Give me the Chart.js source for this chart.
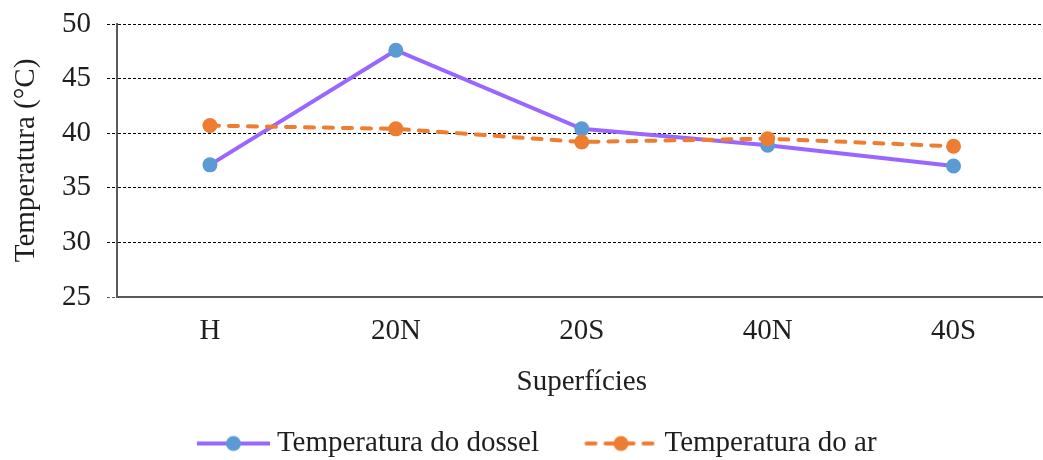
<!DOCTYPE html>
<html>
<head>
<meta charset="utf-8">
<script src="https://cdn.jsdelivr.net/npm/chart.js@4.4.1/dist/chart.umd.min.js"></script>
<style>
  html, body { margin:0; padding:0; background:#fff; overflow:hidden; }
  #wrap { width:1054px; height:460px; }
</style>
</head>
<body>
<div id="wrap"><canvas id="grafico"></canvas></div>
<script>
/* ===== dados ===== */
const superficies = ["H", "20N", "20S", "40N", "40S"];
const tempDossel  = [37.1, 47.6, 40.4, 38.9, 37.0];
const tempAr      = [40.7, 40.4, 39.2, 39.5, 38.8];
const nomesSeries = ["Temperatura do dossel", "Temperatura do ar"];
const yMin = 25, yMax = 50, yPasso = 5;

/* ===== estilo ===== */
const corTexto = "#1e1e1e";
const corEixo  = "#595959";
const roxo = "#9966ff", azul = "#5b9bd5", laranja = "#ed7d31";
const tracoAr = [9, 10];

Chart.defaults.font.family = "'Liberation Serif', 'Times New Roman', serif";
Chart.defaults.font.size = 29;
Chart.defaults.color = corTexto;

// marcador da legenda: linha + ponto (com margem transparente a esquerda)
function marcador(corLinha, corPonto, traco){
  const c = document.createElement("canvas");
  c.width = 116; c.height = 18;
  const g = c.getContext("2d");
  const x0 = 43, len = 73, y = 9;
  g.strokeStyle = corLinha;
  g.lineWidth = 4;
  g.lineCap = traco ? "round" : "butt";
  g.setLineDash(traco || []);
  g.beginPath();
  g.moveTo(x0 + (traco ? 2 : 0), y);
  g.lineTo(x0 + len - (traco ? 2 : 0), y);
  g.stroke();
  g.setLineDash([]);
  g.fillStyle = corPonto;
  g.beginPath();
  g.arc(x0 + len / 2, y, 7.5, 0, Math.PI * 2);
  g.fill();
  return c;
}
const marcadores = [marcador(roxo, azul, null), marcador(laranja, laranja, tracoAr)];

const ehBase = c => c.tick && c.tick.value === yMin;

new Chart(document.getElementById("grafico"), {
  type: "line",
  data: {
    labels: superficies,
    datasets: [
      {
        label: nomesSeries[0],
        data: tempDossel,
        borderColor: roxo,
        borderWidth: 4,
        pointRadius: 7.5,
        pointBorderWidth: 0,
        pointBackgroundColor: azul,
        tension: 0,
        order: 1
      },
      {
        label: nomesSeries[1],
        data: tempAr,
        borderColor: laranja,
        borderWidth: 4,
        borderDash: tracoAr,
        borderCapStyle: "round",
        pointRadius: 7.5,
        pointBorderWidth: 0,
        pointBackgroundColor: laranja,
        tension: 0,
        order: 0
      }
    ]
  },
  options: {
    responsive: true,
    maintainAspectRatio: false,
    animation: false,
    devicePixelRatio: 1,
    layout: { padding: { left: -16, right: 0, top: 24, bottom: -8 } },
    plugins: {
      tooltip: { enabled: false },
      legend: {
        position: "bottom",
        labels: {
          usePointStyle: true,
          pointStyleWidth: 101,
          padding: 10,
          color: corTexto,
          font: { size: 29 },
          generateLabels: chart => {
            const itens = Chart.defaults.plugins.legend.labels.generateLabels(chart);
            itens.sort((a, b) => a.datasetIndex - b.datasetIndex);
            itens.forEach(it => { it.pointStyle = marcadores[it.datasetIndex]; });
            return itens;
          }
        }
      }
    },
    scales: {
      x: {
        offset: true,
        grid: { display: false, drawTicks: false },
        border: { display: true, color: corEixo, width: 2 },
        ticks: { padding: 17, color: corTexto, font: { size: 29 } },
        title: {
          display: true, text: "Superfícies", color: corTexto,
          font: { size: 29 }, padding: { top: 0, bottom: 19 }
        },
        afterFit: s => { s.height = 122; }
      },
      y: {
        min: yMin,
        max: yMax,
        ticks: { stepSize: yPasso, padding: 16, color: corTexto, font: { size: 29 } },
        grid: {
          color: c => ehBase(c) ? "rgba(0,0,0,0)" : "#000",
          lineWidth: 1,
          tickLength: 10,
          tickColor: c => ehBase(c) ? corEixo : "#000",
          tickBorderDash: [3, 2]
        },
        border: { display: true, color: corEixo, width: 2, dash: [3, 2] },
        title: {
          display: true, text: "Temperatura (°C)", color: corTexto,
          font: { size: 29 }, padding: { top: 25, bottom: 0 }
        },
        afterFit: s => { s.width = 133; s.paddingTop = 0; s.paddingBottom = 0; }
      }
    }
  }
});
</script>
</body>
</html>
